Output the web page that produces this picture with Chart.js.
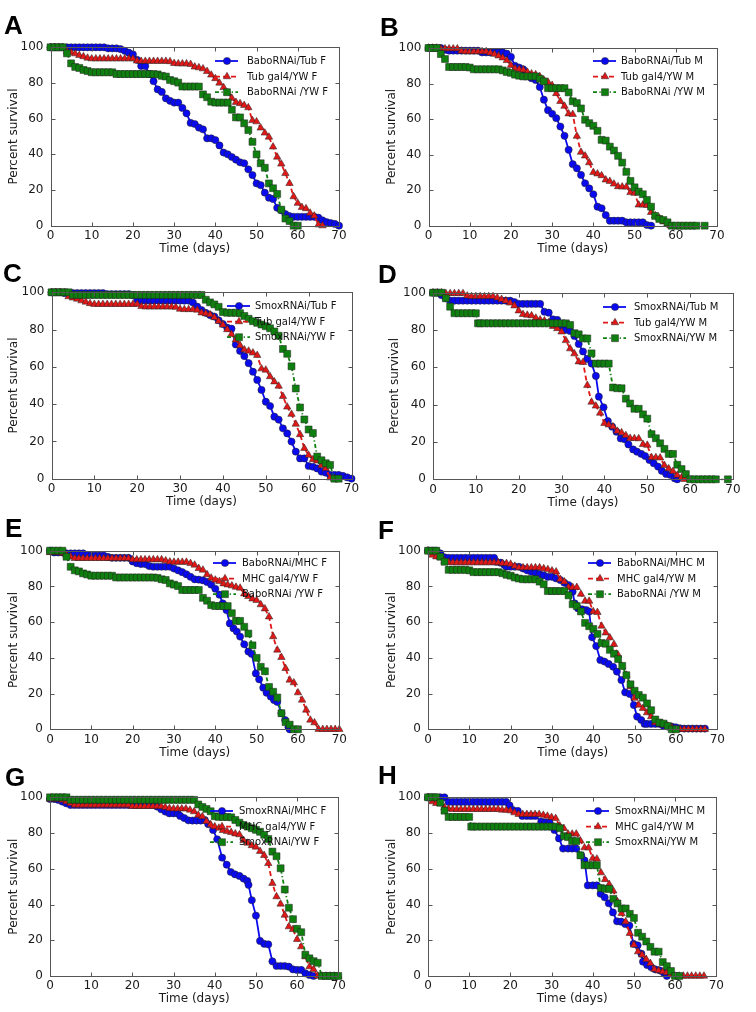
<!DOCTYPE html>
<html><head><meta charset="utf-8">
<script src="https://cdn.jsdelivr.net/npm/chart.js@4.4.1/dist/chart.umd.min.js"></script>
<style>
html,body{margin:0;padding:0;background:#fff;}
#wrap{position:relative;width:756px;height:1012px;overflow:hidden;background:#fff;}
#wrap canvas{position:absolute;}
.lab{position:absolute;font:bold 26px "Liberation Sans",Arial,sans-serif;line-height:26px;color:#000;}
</style></head><body><div id="wrap"></div>
<script>
// ---------------- DATA (day, percent survival) ----------------
const xTicks = [0,10,20,30,40,50,60,70];
const yTicks = [0,20,40,60,80,100];

const blueA = [[0,100],[1,100],[2,100],[3,100],[4,100],[5,100],[6,100],[7,100],[8,100],[9,100],[10,100],[11,100],[12,100],[13,100],[14,99.4],[15,99.4],[16,99.4],[17,99],[18,98],[19,97],[20,96],[21,93],[22,89.5],[23,89.5],[24,85],[25,81],[26,76.4],[27,75],[28,71.4],[29,70],[30,69],[31,69],[32,66],[33,63],[34,57.6],[35,57],[36,55],[37,54],[38,49],[39,49],[40,48],[41,45],[42,41],[43,40],[44,38.5],[45,37],[46,35.5],[47,35],[48,31.6],[49,28.4],[50,23.7],[51,22.7],[52,18.5],[53,15.7],[54,15],[55,10],[56,8.6],[57,6.5],[58,5.4],[59,5],[60,5],[61,5],[62,5],[63,5],[64,5],[65,4.5],[66,3],[67,2],[68,1.5],[69,1],[70,0]];
const redTubF = [[0,100],[1,100],[2,100],[3,100],[4,97.7],[5,97],[6,96.4],[7,95.5],[8,94.8],[9,94],[10,93.6],[11,93.6],[12,93.6],[13,93.6],[14,93.6],[15,93.6],[16,93.6],[17,93.6],[18,93.6],[19,93.6],[20,93.6],[21,92.4],[22,92.2],[23,92.2],[24,92.2],[25,92.2],[26,92.2],[27,92.2],[28,92.2],[29,92],[30,91],[31,90.8],[32,90.8],[33,90.8],[34,90.5],[35,89],[36,88.6],[37,88],[38,86.5],[39,84.5],[40,82.5],[41,80],[42,77.5],[43,74.5],[44,71.5],[45,69.2],[46,68.5],[47,67.5],[48,66.2],[49,59],[50,58.3],[51,54.8],[52,52],[53,49.7],[54,44.2],[55,38.5],[56,34.6],[57,29.3],[58,23.7],[59,16.3],[60,12.6],[61,10.3],[62,9.6],[63,7.1],[64,5.5],[65,0.5],[66,0]];
const greenBaboF = [[0,100],[1,100],[2,100],[3,100],[4,96.6],[5,91],[6,89],[7,88.4],[8,87.3],[9,86.7],[10,86],[11,86],[12,86],[13,86],[14,86],[15,86],[16,85],[17,85],[18,85],[19,85],[20,85],[21,85],[22,85],[23,85],[24,85],[25,85],[26,84.8],[27,84],[28,83.6],[29,81.7],[30,81],[31,80.2],[32,78],[33,78],[34,78],[35,78],[36,78],[37,73.6],[38,72],[39,69.5],[40,69],[41,69],[42,69],[43,69],[44,65],[45,60.7],[46,60.7],[47,57.4],[48,53.6],[49,47],[50,40],[51,35],[52,32.5],[53,23.7],[54,21],[55,17.8],[56,9],[57,4],[58,2.6],[59,0],[60,0]];

const blueB = [[0,100],[1,100],[2,100],[3,100],[4,99],[5,98.5],[6,98.5],[7,98.5],[8,98.5],[9,98.5],[10,98.5],[11,98.5],[12,98.5],[13,97.5],[14,97.5],[15,97.5],[16,97.5],[17,97.5],[18,97.5],[19,96.8],[20,95],[21,90],[22,89],[23,88],[24,85],[25,83],[26,82],[27,78],[28,70.9],[29,65],[30,63],[31,60.5],[32,55.8],[33,50.6],[34,42.7],[35,34.6],[36,32.3],[37,28.6],[38,23.9],[39,21],[40,17.7],[41,10.7],[42,9.8],[43,6],[44,2.8],[45,2.8],[46,2.8],[47,2.8],[48,1.9],[49,1.9],[50,1.9],[51,1.9],[52,1.9],[53,0.4],[54,0]];
const redTubM = [[0,100],[1,100],[2,100],[3,99.6],[4,99.6],[5,99.6],[6,99.6],[7,99.6],[8,98.3],[9,98],[10,98],[11,98],[12,98],[13,98],[14,98],[15,97.3],[16,96.5],[17,95.6],[18,94.5],[19,93],[20,90.3],[21,88.4],[22,88],[23,87.7],[24,86.4],[25,85.5],[26,85],[27,84],[28,82],[29,80.8],[30,79],[31,74.4],[32,70],[33,67.3],[34,63],[35,62.7],[36,50.4],[37,41.4],[38,39.3],[39,35.5],[40,30],[41,29.2],[42,28.2],[43,25.8],[44,25],[45,23.5],[46,22],[47,21.9],[48,21.8],[49,18.7],[50,18.3],[51,11.7],[52,11.7],[53,11.5],[54,7.5],[55,5.7],[56,4.3],[57,2.2],[58,1],[58.7,0]];
const greenBaboM = [[0,100],[1,100],[2,100],[3,96.6],[4,93.8],[5,89.3],[6,89.3],[7,89.3],[8,89.3],[9,89.3],[10,89],[11,88],[12,88],[13,88],[14,88],[15,88],[16,88],[17,88],[18,87.4],[19,86.5],[20,86],[21,85],[22,84.4],[23,84],[24,84],[25,84],[26,84],[27,82.7],[28,81.2],[29,77.4],[30,77.4],[31,77.4],[32,77.4],[33,77.4],[34,75],[35,70],[36,69],[37,66],[38,59.6],[39,57.7],[40,56.2],[41,53.4],[42,48.3],[43,47.9],[44,44.5],[45,42.3],[46,39.3],[47,35.5],[48,30.3],[49,25.2],[50,21.6],[51,19.2],[52,17.7],[53,14.5],[54,10.7],[55,5.5],[56,3.8],[57,3.2],[58,1.9],[59,0],[60,0]];
const greenBaboM_tailB = [[61,0],[62,0],[63,0],[64,0],[65,0],[67,0]];

const blueC = [[0,100],[1,100],[2,100],[3,99.6],[4,99.6],[5,99.6],[6,99.6],[7,99.6],[8,99.6],[9,99.6],[10,99.6],[11,99.6],[12,99.6],[13,99],[14,99],[15,99],[16,99],[17,99],[18,99],[19,98.5],[20,96.2],[21,95.5],[22,95.5],[23,95.5],[24,95.5],[25,95.5],[26,95.5],[27,95.5],[28,95.5],[29,95.5],[30,95.5],[31,95.5],[32,95.5],[33,94.5],[34,92.3],[35,90.5],[36,89],[37,87.8],[38,87],[39,85],[40,83],[41,81],[42,80.5],[43,72],[44,68.5],[45,65.8],[46,62],[47,57.4],[48,53],[49,47.6],[50,41.3],[51,39],[52,33.3],[53,31.7],[54,27],[55,24.3],[56,19.9],[57,14.5],[58,10.9],[59,10.9],[60,6.8],[61,6.4],[62,5.5],[63,3.8],[64,3.2],[65,2],[66,2],[67,2],[68,1.5],[69,0.7],[70,0]];
const greenSmoxF = [[0,100],[1,100],[2,100],[3,100],[4,100],[5,98.6],[6,98.6],[7,98.6],[8,98.6],[9,98.6],[10,98.6],[11,98.6],[12,98.6],[13,98.6],[14,98.6],[15,98.6],[16,98.6],[17,98.6],[18,98.6],[19,98.6],[20,98.6],[21,98.6],[22,98.6],[23,98.6],[24,98.6],[25,98.6],[26,98.6],[27,98.6],[28,98.6],[29,98.6],[30,98.6],[31,98.6],[32,98.6],[33,98.6],[34,98.6],[35,98.6],[36,96],[37,94.6],[38,93.5],[39,92.2],[40,89.4],[41,89],[42,89],[43,89],[44,88.8],[45,87.3],[46,85.8],[47,84.5],[48,83.6],[49,82.7],[50,81.8],[51,80.7],[52,79],[53,76.7],[54,69.6],[55,67],[56,60.3],[57,48.4],[58,38.2],[59,31.8],[60,26.4],[61,24.5],[62,11.9],[63,9.9],[64,8.3],[65,7.4],[66,0],[67,0]];
const greenSmoxF_tailG = [[68,0],[69,0],[70,0]];

const blueD = [[0,100],[1,100],[2,98.7],[3,97],[4,95.7],[5,95.7],[6,95.7],[7,95.7],[8,95.7],[9,95.7],[10,95.7],[11,95.7],[12,95.7],[13,95.7],[14,95.7],[15,95.7],[16,95.7],[17,95.7],[18,95.7],[19,95],[20,94],[21,94],[22,94],[23,94],[24,94],[25,94],[26,89.8],[27,89.3],[28,85.7],[29,85.4],[30,81.8],[31,80],[32,79.5],[33,76.8],[34,72.5],[35,68.5],[36,64.5],[37,62],[38,55.4],[38.7,44.3],[39.8,38.6],[40.8,31.2],[41.8,28.2],[42.8,25.5],[43.8,21.9],[44.7,21.4],[45.6,18.7],[46.7,16],[47.6,14.8],[48.6,13.6],[49.5,12.5],[50.5,10.4],[51.5,8.6],[52.5,6.8],[53.4,4.5],[54.4,2.9],[55.4,2.3],[56.4,0.5],[57,0]];
const greenSmoxM = [[0,100],[1,100],[2,100],[3,97],[4,92.5],[5,89],[6,89],[7,89],[8,89],[9,89],[10,89],[10.5,83.6],[11,83.6],[12,83.6],[13,83.6],[14,83.6],[15,83.6],[16,83.6],[17,83.6],[18,83.6],[19,83.6],[20,83.6],[21,83.6],[22,83.6],[23,83.6],[24,83.6],[25,83.6],[26,83.6],[27,83.6],[28,83.6],[29,83.6],[30,83.6],[31,83.6],[32,82.7],[33,78.3],[34,77.7],[35,75.5],[36,75.5],[37,67.5],[38,62],[39,62],[40,62],[41,62],[42,49.2],[43,48.8],[44,48.8],[45,43.2],[46,40.6],[47,37.8],[48,37.8],[49,34.8],[50,32.5],[51,24.2],[52,22],[53,19.3],[54,16.3],[55,13.6],[56,13.6],[57,7.8],[58,5.5],[59,2.8],[60,0],[61,0]];
const greenSmoxM_tailD = [[62,0],[63,0],[64,0],[65,0],[66,0],[68.8,0]];

const blueE = [[0,100],[1,99],[2,99],[3,99],[4,98.5],[5,98.5],[6,98.5],[7,98.5],[8,98.5],[9,97.6],[10,97.2],[11,97.2],[12,97.2],[13,97.2],[14,96.5],[15,96],[16,96],[17,96],[18,96],[19,96],[20,94],[21,93],[22,92.5],[23,92.5],[24,91.4],[25,91],[26,91],[27,91],[28,91],[29,91],[30,90],[31,89],[32,88],[33,86.8],[34,85.4],[35,84],[36,83.8],[37,83.4],[38,82.5],[39,81],[40,78.7],[41,75.4],[41.8,70.5],[42.7,66.8],[43.5,59.3],[44.4,56.5],[45.2,54.7],[46,51.9],[47,47.6],[48,43.5],[48.8,42.2],[49.8,31.3],[50.6,28],[51.6,23.3],[52.4,20.5],[53.4,18.3],[54.2,16.4],[55,15.3],[56,9],[56.9,5.2],[57.7,1.1],[58,0]];
const redMHCF = [[0,99],[1,99],[2,99],[3,98.5],[4,97.6],[5,96.6],[6,95.7],[7,95.7],[8,95.7],[9,95.7],[10,95.7],[11,95.7],[12,95.7],[13,95.7],[14,95.7],[15,95.7],[16,95.7],[17,95.7],[18,95.7],[19,95.7],[20,95],[21,95],[22,95],[23,95],[24,95],[25,95],[26,95],[27,95],[28,94.4],[29,93.8],[30,93.6],[31,93.6],[32,93.6],[33,93.6],[34,92.9],[35,92],[36,90.1],[37,89.2],[38,86.6],[39,84.7],[40,83.6],[41,82.8],[42,81.5],[43,80.9],[44,80.4],[45,79.6],[46,79.1],[47,75.9],[48,74.4],[49,73],[50,72.2],[51,69.8],[52,67.5],[53,63],[54,51.9],[55,44.4],[56,40.3],[57,34.1],[58,27.6],[59,26.1],[60,20.5],[61,16.4],[62,10.8],[63,5.2],[64,3.7],[65,0],[66,0],[67,0],[68,0],[69,0],[70,0]];

const blueF = [[0,100],[1,100],[2,100],[3,98.5],[4,96.3],[5,96],[6,96],[7,96],[8,96],[9,96],[10,96],[11,96],[12,96],[13,96],[14,96],[15,96],[16,96],[16.5,93.8],[17.6,93.3],[18.5,92],[19,91],[20,91],[21,91],[22,91],[23,90],[24,89],[25,88.2],[26,87.7],[27,86.9],[28,86.2],[29,85.4],[30,85.4],[31,84.5],[32,83.6],[33,82],[34,80.8],[35,77],[35.5,70.5],[36.3,67.7],[37.3,67.2],[38.3,66.8],[39,65.9],[39.7,51.5],[40.7,46.6],[41.7,38.8],[42.7,37.9],[43.7,36.6],[44.8,35],[45.7,32.3],[46.8,27.6],[47.7,20.7],[48.8,19.8],[49.8,13.6],[50.6,7.1],[51.6,5.2],[52.4,3],[53,3],[54,3],[55,3],[56,3],[57,1.9],[58,1.5],[59,1.5],[60,1.1],[61,0.6],[62,0.4],[63,0.4],[64,0.4],[65,0.4],[66,0.4],[67,0.4]];
const redMHCM = [[0,100],[1,97.6],[2,96.6],[3,96.3],[4,94.2],[5,93.5],[6,93.3],[7,93.3],[8,93.3],[9,93.3],[10,93.3],[11,93.3],[12,93.3],[13,93.3],[14,93.3],[15,93.3],[16,93.3],[17,93.3],[18,92.9],[19,92.9],[20,92.5],[21,91.4],[22,90.5],[23,90.5],[24,90.5],[25,90.5],[26,90.5],[27,90.5],[28,90],[29,89.5],[30,88.8],[31,88.2],[32,84],[33,82.6],[34,79.5],[35,79.5],[36,79.5],[37,75.7],[38,71.8],[39,71.8],[40,65.9],[41,65.5],[42,57.8],[43,54],[44,51.3],[45,47.6],[46,41.6],[47,35],[48,30.4],[49,23.9],[50,17.4],[51,13.6],[52,11.8],[53,9.3],[54,7.1],[55,3.7],[56,3],[57,2.4],[58,1.9],[59,1.1],[60,0],[61,0],[62,0],[63,0],[64,0],[65,0],[66,0],[67,0]];

const blueG = [[0,99],[1,99],[2,98.5],[3,97.6],[4,96.6],[5,95.7],[6,95.7],[7,95.7],[8,95.7],[9,95.7],[10,95.7],[11,95.7],[12,95.7],[13,95.7],[14,95.7],[15,95.7],[16,95.7],[17,95.7],[18,95.7],[19,95.7],[20,95.7],[21,95.7],[22,95.7],[23,95.7],[24,95.7],[25,95.7],[26,94.8],[27,93.3],[28,92],[29,91],[30,91],[31,91],[31.6,89.6],[32.6,88.4],[33.6,87.1],[34.6,87],[35.6,87],[36.6,87],[37.6,87.3],[38.4,85],[39.6,81.7],[40.6,76.5],[41.8,66.2],[42.9,62.3],[43.9,58.2],[44.9,56.9],[46,56],[47,54.5],[47.9,53.2],[48.2,51],[49,42.4],[50,33.8],[51,19.6],[52,18],[53,17.7],[54,8.2],[55,5.6],[56,5.6],[57,5.6],[58,5.2],[59,3.7],[60,3.4],[61,3.4],[62,1.5],[63,0.6],[64,0]];

const blueH = [[0,100],[1,100],[2,100],[3,100],[4,100],[5,97.4],[6,97.4],[7,97.4],[8,97.4],[9,97.4],[10,97.4],[11,97.4],[12,97.4],[13,97.4],[14,97.4],[15,97.4],[16,97.4],[17,97.4],[18,97.4],[19,97.4],[19.8,95.5],[20.6,92.9],[21.8,92.4],[22.9,89.6],[24,89.6],[25,89.6],[26,89.6],[27.5,86.4],[28.5,86],[29.5,86],[30.7,81.7],[31.8,77],[32.8,71.3],[34,71.3],[35,71.3],[36,71.3],[37.2,67.5],[38,64.7],[38.8,50.7],[40,50.7],[41,50.7],[41.9,46],[42.9,44],[43.9,40.7],[44.9,35.6],[45.9,30.6],[46.9,30.4],[47.9,29.1],[48.9,28.2],[49.9,18],[50.9,17.2],[51.8,12.5],[52.2,8],[53.2,6.2],[54.2,4.9],[55.2,3.7],[56.2,3.2],[57.2,1.9],[58,0]];

const legendA = ['BaboRNAi/Tub F','Tub gal4/YW F','BaboRNAi /YW F'];
const legendB = ['BaboRNAi/Tub M','Tub gal4/YW M','BaboRNAi /YW M'];
const legendC = ['SmoxRNAi/Tub F','Tub gal4/YW F','SmoxRNAi/YW F'];
const legendD = ['SmoxRNAi/Tub M','Tub gal4/YW M','SmoxRNAi/YW M'];
const legendE = ['BaboRNAi/MHC F','MHC gal4/YW F','BaboRNAi /YW F'];
const legendF = ['BaboRNAi/MHC M','MHC gal4/YW M','BaboRNAi /YW M'];
const legendG = ['SmoxRNAi/MHC F','MHC gal4/YW F','SmoxRNAi/YW F'];
const legendH = ['SmoxRNAi/MHC M','MHC gal4/YW M','SmoxRNAi/YW M'];

// ---------------- LAYOUT / STYLE ----------------
const CW = 378, CH = 262, XH = 32;
const FONT = '"DejaVu Sans", sans-serif';
const styles = [
  {color:'#0a0af0', dash:[], ps:'circle', r:3.6, order:3},
  {color:'#e01818', dash:[5,3], ps:'triangle', r:4.3, order:2},
  {color:'#0f800f', dash:[4,2.5,1.2,2.5], ps:'rect', r:4.9, order:1}
];

const panels = [
  {letter:'A', px:0,   py:0,   area:{l:50.5,t:47.3,r:339,b:225.7}, lt:[4,11.6],   ytc:14.3, leg:{x:215,y:61,tx:247}, data:[blueA, redTubF, greenBaboF], labels:legendA},
  {letter:'B', px:378, py:0,   area:{l:50.5,t:48,r:339,b:225.7},   lt:[380,13.6], ytc:14.3, leg:{x:215,y:61,tx:243}, data:[blueB, redTubM, greenBaboM.concat(greenBaboM_tailB)], labels:legendB},
  {letter:'C', px:0,   py:250, area:{l:51.5,t:42.3,r:351.5,b:228.7}, lt:[3,259.6], ytc:14.3, leg:{x:227,y:56,tx:255}, data:[blueC, redTubF, greenSmoxF], labels:legendC},
  {letter:'D', px:378, py:250, area:{l:55,t:42.7,r:355,b:229.3},   lt:[378,260.6], ytc:16.7, leg:{x:225,y:57,tx:256}, data:[blueD, redTubM, greenSmoxM.concat(greenSmoxM_tailD)], labels:legendD},
  {letter:'E', px:0,   py:500, area:{l:50,t:50.7,r:339.3,b:229.3}, lt:[5,514.6],  ytc:13.5, leg:{x:213,y:63,tx:242}, data:[blueE, redMHCF, greenBaboF], labels:legendE},
  {letter:'F', px:378, py:500, area:{l:50,t:50.7,r:339.3,b:229.3}, lt:[378,516.6], ytc:13.5, leg:{x:210,y:63,tx:239}, data:[blueF, redMHCM, greenBaboM], labels:legendF},
  {letter:'G', px:0,   py:750, area:{l:50,t:47.3,r:338.3,b:226},   lt:[5,763.6],  ytc:13.5, leg:{x:210,y:61,tx:239}, data:[blueG, redMHCF, greenSmoxF.concat(greenSmoxF_tailG)], labels:legendG},
  {letter:'H', px:378, py:750, area:{l:50,t:47.3,r:338.3,b:226},   lt:[378,761.6], ytc:13.5, leg:{x:208,y:61,tx:237}, data:[blueH, redMHCM, greenSmoxM], labels:legendH}
];

function drawMark(ctx, ps, x, y, r){
  ctx.beginPath();
  if (ps === 'circle') { ctx.arc(x, y, r, 0, Math.PI*2); }
  else if (ps === 'triangle') {
    let a = 0;
    ctx.moveTo(x + Math.sin(a)*r, y - Math.cos(a)*r); a += 2*Math.PI/3;
    ctx.lineTo(x + Math.sin(a)*r, y - Math.cos(a)*r); a += 2*Math.PI/3;
    ctx.lineTo(x + Math.sin(a)*r, y - Math.cos(a)*r);
    ctx.closePath();
  } else { const s = Math.SQRT1_2*r; ctx.rect(x-s, y-s, 2*s, 2*s); }
  ctx.fill(); ctx.stroke();
}

const framePlugin = {
  id:'frameLegend',
  afterDatasetsDraw(chart){
    const o = chart.options.plugins.frameLegend;
    const {ctx, chartArea:{left,top,right,bottom}, scales:{x,y}} = chart;
    ctx.save();
    ctx.setLineDash([]);
    ctx.strokeStyle = '#555'; ctx.lineWidth = 1;
    const L = Math.round(left)+0.5, R = Math.round(right)+0.5, T = Math.round(top)+0.5, B = Math.round(bottom)+0.5;
    ctx.strokeRect(L, T, R-L, B-T);
    ctx.beginPath();
    xTicks.forEach(v => { const px = Math.round(x.getPixelForValue(v))+0.5; ctx.moveTo(px,B); ctx.lineTo(px,B-4); ctx.moveTo(px,T); ctx.lineTo(px,T+4); });
    yTicks.forEach(v => { const py = Math.round(y.getPixelForValue(v))+0.5; ctx.moveTo(L,py); ctx.lineTo(L+4,py); ctx.moveTo(R,py); ctx.lineTo(R-4,py); });
    ctx.stroke();
    // legend
    const lg = o.leg;
    o.labels.forEach((txt, i) => {
      const st = styles[i];
      const yy = lg.y + i*15.6;
      ctx.strokeStyle = st.color; ctx.lineWidth = 1.8; ctx.setLineDash(st.dash);
      ctx.beginPath(); ctx.moveTo(lg.x, yy); ctx.lineTo(lg.x+23, yy); ctx.stroke();
      ctx.setLineDash([]);
      ctx.fillStyle = st.color; ctx.strokeStyle = '#222'; ctx.lineWidth = 0.5;
      drawMark(ctx, st.ps, lg.x+12, yy, st.r);
      ctx.fillStyle = '#111'; ctx.font = '10px ' + FONT; ctx.textBaseline = 'middle'; ctx.textAlign = 'left';
      ctx.fillText(txt, lg.tx, yy+0.5);
    });
    ctx.restore();
  }
};

const wrap = document.getElementById('wrap');
panels.forEach(p => {
  const cv = document.createElement('canvas');
  cv.width = CW; cv.height = CH;
  cv.style.left = p.px + 'px'; cv.style.top = p.py + 'px';
  cv.style.width = CW + 'px'; cv.style.height = CH + 'px';
  wrap.appendChild(cv);
  const lab = document.createElement('div');
  lab.className = 'lab'; lab.textContent = p.letter;
  lab.style.left = p.lt[0] + 'px'; lab.style.top = p.lt[1] + 'px';
  wrap.appendChild(lab);
  const a = p.area;
  const datasets = p.data.map((arr, i) => {
    const st = styles[i];
    return {
      label: p.labels[i],
      data: arr.map(d => ({x:d[0], y:d[1]})),
      borderColor: st.color, backgroundColor: st.color,
      borderWidth: 1.8, borderDash: st.dash,
      pointStyle: st.ps, pointRadius: st.r, pointHoverRadius: st.r,
      pointBackgroundColor: st.color, pointBorderColor: '#222', pointBorderWidth: 0.5,
      tension: 0, clip: false, order: st.order, fill: false
    };
  });
  new Chart(cv, {
    type: 'line',
    data: {datasets},
    options: {
      responsive: false, animation: false, devicePixelRatio: 1,
      layout: {padding: {left: 0, top: a.t, right: CW - a.r, bottom: CH - a.b - XH}},
      plugins: {legend:{display:false}, tooltip:{enabled:false}, frameLegend:{leg:p.leg, labels:p.labels}},
      scales: {
        x: {type:'linear', min:0, max:70,
            afterBuildTicks: s => { s.ticks = xTicks.map(v => ({value:v})); },
            ticks:{padding:3, color:'#1a1a1a', font:{family:FONT, size:12}, maxRotation:0, autoSkip:false},
            grid:{display:false, drawTicks:false}, border:{display:false},
            title:{display:true, text:'Time (days)', color:'#1a1a1a', font:{family:FONT, size:12}, padding:{top:0, bottom:1.5}},
            afterFit: s => { s.height = XH; }},
        y: {type:'linear', min:0, max:100,
            afterBuildTicks: s => { s.ticks = yTicks.map(v => ({value:v})); },
            ticks:{padding:7, color:'#1a1a1a', font:{family:FONT, size:12}, autoSkip:false},
            grid:{display:false, drawTicks:false}, border:{display:false},
            title:{display:true, text:'Percent survival', color:'#1a1a1a', font:{family:FONT, size:12}, padding:{top: p.ytc - 7.2, bottom:0}},
            afterFit: s => { s.width = a.l; }}
      }
    },
    plugins: [framePlugin]
  });
});
</script></body></html>
